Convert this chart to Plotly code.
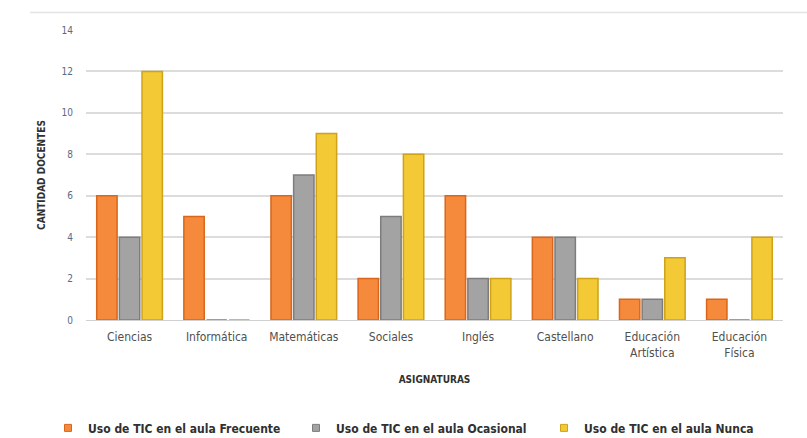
import plotly.graph_objects as go

# Subjects on the x axis
asignaturas = ["Ciencias", "Informática", "Matemáticas", "Sociales", "Inglés",
               "Castellano", "Educación<br>Artística", "Educación<br>Física"]

# Number of teachers per level of ICT use in the classroom
frecuente = [6, 5, 6, 2, 6, 4, 1, 1]
ocasional = [4, 0, 7, 5, 2, 4, 1, 0]
nunca = [12, 0, 9, 8, 2, 2, 3, 4]

series_names = ["Uso de TIC en el aula Frecuente",
                "Uso de TIC en el aula Ocasional",
                "Uso de TIC en el aula Nunca"]
series_values = [frecuente, ocasional, nunca]
fill_colors = ["#f58a3c", "#a3a3a3", "#f3c936"]
edge_colors = ["#d9661c", "#7d7d7d", "#cfa21a"]

FONT = "DejaVu Sans Condensed, Liberation Sans Narrow, Arial Narrow, sans-serif"

fig = go.Figure()
for name, vals, fc, ec in zip(series_names, series_values, fill_colors, edge_colors):
    fig.add_trace(go.Bar(
        x=asignaturas, y=vals, name=name, showlegend=False,
        marker=dict(color=fc, line=dict(color=ec, width=1.5)),
    ))
    # small square swatch for the legend
    fig.add_trace(go.Scatter(
        x=[None], y=[None], mode="markers", name="<b>" + name + "</b>",
        marker=dict(symbol="square", size=7, color=fc, line=dict(color=ec, width=1)),
    ))

fig.update_layout(
    width=807, height=438,
    margin=dict(l=86, r=24, t=30, b=118, autoexpand=False),
    paper_bgcolor="white", plot_bgcolor="white",
    font=dict(family=FONT, size=10, color="#404040"),
    barmode="group", bargap=0.22, bargroupgap=0.1,
    showlegend=True,
    legend=dict(orientation="h", x=-0.0545, xanchor="left", y=-0.372, yanchor="middle",
                font=dict(family=FONT, size=12, color="#303030"),
                itemwidth=30, entrywidth=203, entrywidthmode="pixels",
                traceorder="normal"),
    xaxis=dict(
        title=dict(text="<b>ASIGNATURAS</b>", font=dict(family=FONT, size=10, color="#303030"),
                   standoff=16),
        automargin=False,
        showline=True, linecolor="#d0d0d0", linewidth=1,
        ticks="", ticklabelstandoff=6,
        tickfont=dict(family=FONT, size=12, color="#505050"),
    ),
    yaxis=dict(
        title=dict(text="<b>CANTIDAD DOCENTES</b>", font=dict(family=FONT, size=10, color="#303030"),
                   standoff=14),
        automargin=False,
        range=[0, 14], dtick=2,
        showgrid=True, gridcolor="#dcdcdc", gridwidth=1.5,
        zeroline=False, ticklabelstandoff=12,
        tickfont=dict(family=FONT, size=10, color="#5a6a80"),
    ),
)

# Thin frame line along the top of the chart area
fig.add_shape(type="line", xref="paper", yref="paper", x0=-0.08, x1=1.05, y0=1.06, y1=1.06,
              line=dict(color="#e3e3e3", width=1.5))

fig.write_html("out.html")
